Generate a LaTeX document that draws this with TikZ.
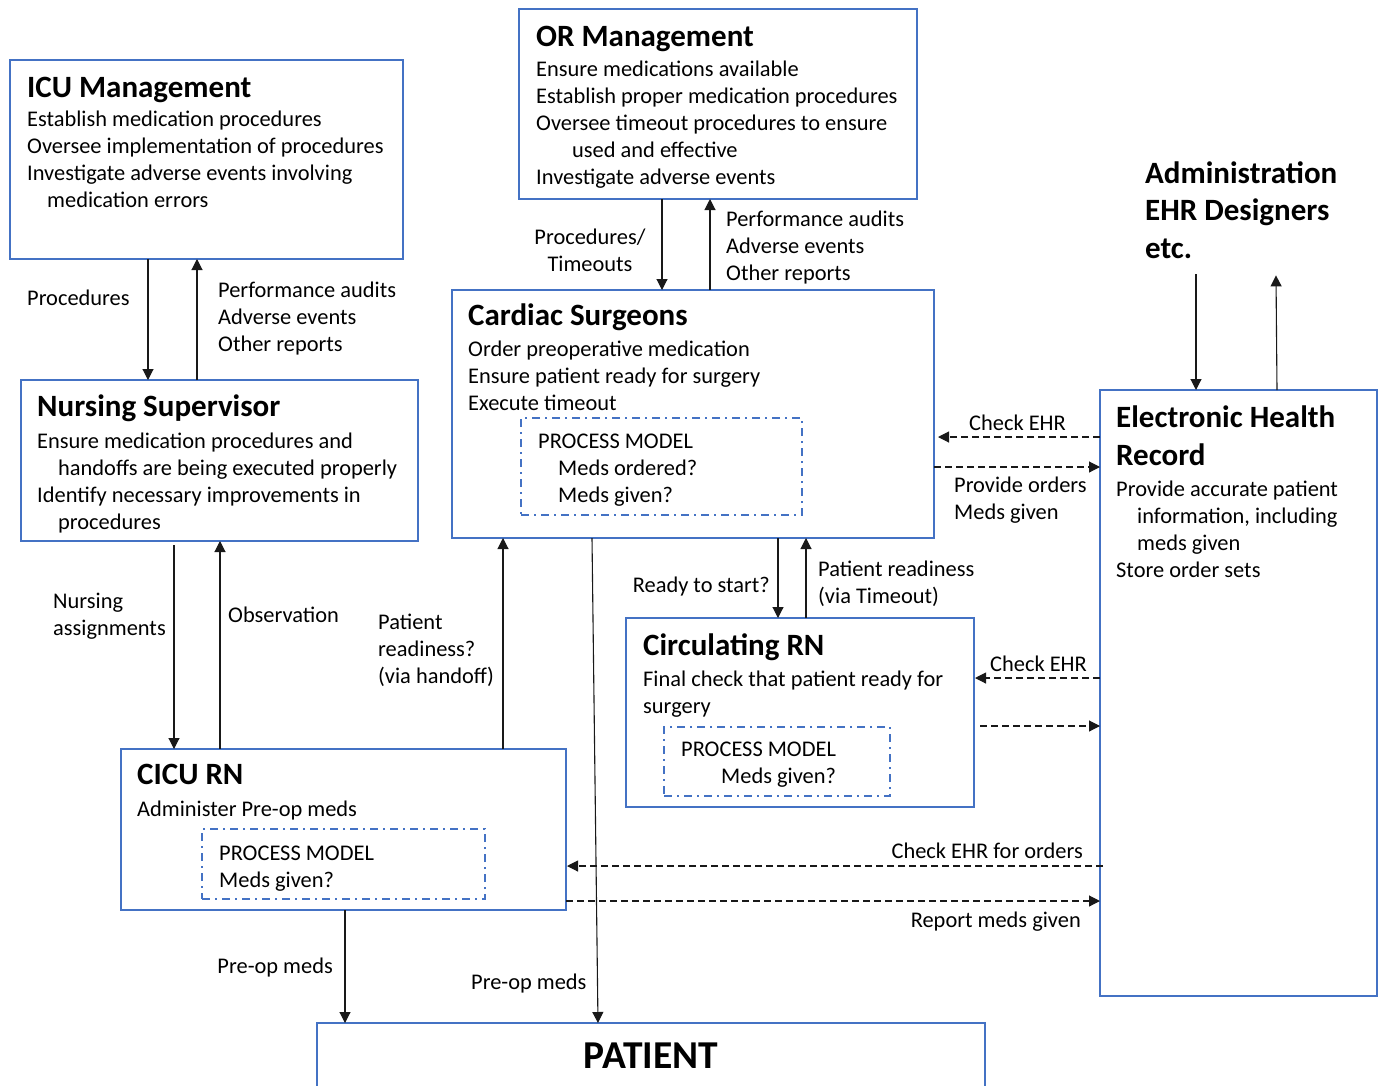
\documentclass[tikz,border=0pt]{standalone}
\usepackage{fontspec}
\setmainfont{Carlito}
\usetikzlibrary{arrows.meta,calc}
\definecolor{boxblue}{HTML}{4472C4}
\definecolor{wire}{gray}{0.1}
\newcommand\bodyfont{\fontsize{22.4}{27}\selectfont}
\newcommand\headfont{\fontsize{31}{37.5}\selectfont\bfseries}

\begin{document}
\begin{tikzpicture}[x=1pt,y=-1pt,
    blk/.style={draw=boxblue, line width=1.8pt, anchor=north west, inner sep=0pt, outer sep=0pt},
    pm/.style={blk, line width=1.6pt, dash pattern=on 8pt off 5pt on 2pt off 5pt},
    head/.style={font=\headfont, anchor=base west, inner sep=0pt},
    body/.style={font=\bodyfont, align=left, anchor=north west, inner sep=0pt},
    lbl/.style={font=\bodyfont, anchor=base west, inner sep=0pt},
    flow/.style={draw=wire, line width=1.1pt, -{Triangle[length=11pt,width=11pt]}},
    query/.style={flow, dash pattern=on 7pt off 4pt},
  ]
  \useasboundingbox (0,0) rectangle (1382,1085);
  \clip (0,0) rectangle (1382,1085);

  % boxes
  \node[blk, minimum width=393pt, minimum height=199pt] (icu)  at (10,60) {};
  \node[blk, minimum width=398pt, minimum height=190pt] (orm)  at (519,9) {};
  \node[blk, minimum width=482pt, minimum height=248pt] (card) at (452,290) {};
  \node[blk, minimum width=397pt, minimum height=161pt] (nsup) at (21,380) {};
  \node[blk, minimum width=277pt, minimum height=606pt] (ehr)  at (1100,390) {};
  \node[blk, minimum width=348pt, minimum height=189pt] (circ) at (626,618) {};
  \node[blk, minimum width=445pt, minimum height=161pt] (cicu) at (121,749) {};
  \node[blk, minimum width=668pt, minimum height=90pt]  (pat)  at (317,1023) {};

  \node[pm, minimum width=281pt, minimum height=97pt] (cardpm) at (521,418) {};
  \node[pm, minimum width=226pt, minimum height=69pt] (circpm) at (664,727) {};
  \node[pm, minimum width=283pt, minimum height=70pt] (cicupm) at (202,829) {};

  % box texts
  \node[head] (icuh) at (27,97) {ICU Management};
  \node[body] (icub) at (27,111) {Establish medication procedures\\Oversee implementation of procedures\\Investigate adverse events involving\\\hspace*{20pt}medication errors};

  \node[head] (ormh) at (536,46) {OR Management};
  \node[body] (ormb) at (536,61) {Ensure medications available\\Establish proper medication procedures\\Oversee timeout procedures to ensure\\\hspace*{36pt}used and effective\\Investigate adverse events};

  \node[head] (cardh) at (468,325) {Cardiac Surgeons};
  \node[body] (cardb) at (468,341) {Order preoperative medication\\Ensure patient ready for surgery\\Execute timeout};
  \node[body] (cardpmt) at (538,434) {PROCESS MODEL\\\hspace*{20pt}Meds ordered?\\\hspace*{20pt}Meds given?};

  \node[head] (nsuph) at (37,416) {Nursing Supervisor};
  \node[body] (nsupb) at (37,433) {Ensure medication procedures and\\\hspace*{21pt}handoffs are being executed properly\\Identify necessary improvements in\\\hspace*{21pt}procedures};

  \node[body, font=\headfont] (ehrh) at (1116,406) {Electronic Health\\Record};
  \node[body] (ehrb) at (1116,481) {Provide accurate patient\\\hspace*{21pt}information,  including\\\hspace*{21pt}meds given\\Store order sets};

  \node[body, font=\headfont] (admin) at (1145,161) {Administration\\EHR Designers\\etc.};

  \node[head] (circh) at (643,655) {Circulating RN};
  \node[body] (circb) at (643,671) {Final check that patient ready for\\surgery};
  \node[body] (circpmt) at (681,742) {PROCESS MODEL\\\hspace*{40pt}Meds given?};

  \node[head] (cicuh) at (137,784) {CICU RN};
  \node[lbl] (cicub) at (137,816) {Administer Pre-op meds};
  \node[body] (cicupmt) at (219,846) {PROCESS MODEL\\Meds given?};

  \node[font=\fontsize{39.5}{44}\selectfont\bfseries, anchor=base, inner sep=0pt] (path) at (651,1068) {PATIENT};

  % labels
  \node[lbl] (lproc) at (27,305) {Procedures};
  \node[body] (laud1) at (218,282) {Performance audits\\Adverse events\\Other reports};
  \node[body, align=center, anchor=north] (lproc2) at (590,229) {Procedures/\\Timeouts};
  \node[body] (laud2) at (726,211) {Performance audits\\Adverse events\\Other reports};
  \node[lbl] (lchk1) at (969,430) {Check EHR};
  \node[body] (lprov) at (954,477) {Provide orders\\Meds given};
  \node[body] (lnass) at (53,593) {Nursing\\assignments};
  \node[lbl] (lobs) at (228,622) {Observation};
  \node[body] (lhand) at (378,614) {Patient\\readiness?\\(via handoff)};
  \node[lbl, anchor=base east] (lready) at (770,592) {Ready to start?};
  \node[body] (ltime) at (818,561) {Patient readiness\\(via Timeout)};
  \node[lbl] (lchk2) at (990,671) {Check EHR};
  \node[lbl, anchor=base east] (lchk3) at (1083,858) {Check EHR for orders};
  \node[lbl, anchor=base east] (lrep) at (1081,927) {Report meds given};
  \node[lbl, anchor=base east] (lpre1) at (333,973) {Pre-op meds};
  \node[lbl] (lpre2) at (471,989) {Pre-op meds};

  % connectors
  \draw[flow] ($(icu.south west)+(138,0)$) -- ($(nsup.north west)+(127,0)$);
  \draw[flow] ($(nsup.north west)+(176,0)$) -- ($(icu.south west)+(187,0)$);
  \draw[flow] ($(orm.south west)+(143,0)$) -- ($(card.north west)+(210,0)$);
  \draw[flow] ($(card.north west)+(258,0)$) -- ($(orm.south west)+(191,0)$);
  \draw[flow] ($(admin.south west)+(51,16)$) -- ($(ehr.north west)+(96,0)$);
  \draw[flow] ($(ehr.north west)+(177,0)$) -- ($(admin.south west)+(131,17)$);
  \draw[query] ($(ehr.north west)+(0,47)$) -- ($(card.north east)+(4,147)$);
  \draw[query] ($(card.north east)+(0,177)$) -- ($(ehr.north west)+(0,77)$);
  \draw[flow] ($(nsup.south west)+(153,4)$) -- ($(cicu.north west)+(53,0)$);
  \draw[flow] ($(cicu.north west)+(99,0)$) -- ($(nsup.south west)+(199,0)$);
  \draw[flow] ($(cicu.north west)+(382,0)$) -- ($(card.south west)+(51,0)$);
  \draw[flow] ($(card.south west)+(140,0)$) -- ($(pat.north west)+(281,0)$);
  \draw[flow] ($(card.south west)+(326,0)$) -- ($(circ.north west)+(152,0)$);
  \draw[flow] ($(circ.north west)+(180,0)$) -- ($(card.south west)+(354,0)$);
  \draw[query] ($(ehr.north west)+(0,288)$) -- ($(circ.north east)+(1,60)$);
  \draw[query] ($(circ.north east)+(6,108)$) -- ($(ehr.north west)+(0,336)$);
  \draw[query] ($(ehr.north west)+(3,476)$) -- ($(cicu.north east)+(1,117)$);
  \draw[query] ($(cicu.north east)+(0,152)$) -- ($(ehr.north west)+(0,511)$);
  \draw[flow] ($(cicu.south west)+(224,0)$) -- ($(pat.north west)+(28,0)$);
\end{tikzpicture}
\end{document}
